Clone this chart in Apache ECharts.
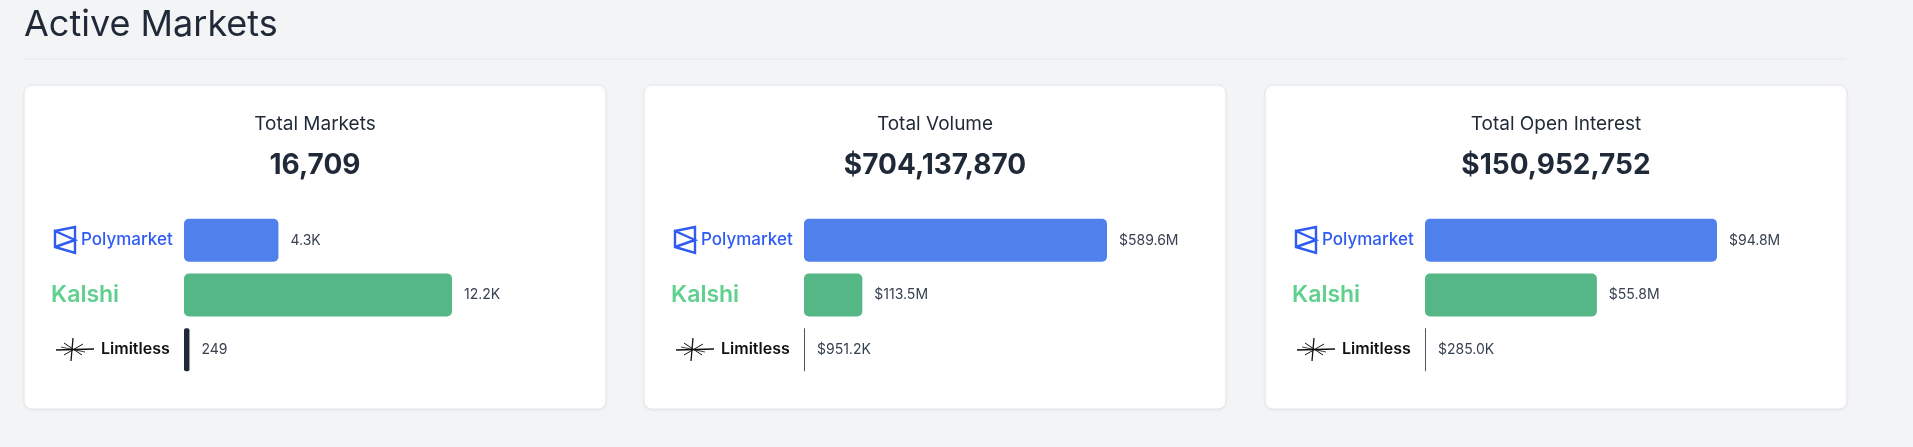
<!DOCTYPE html>
<html><head><meta charset="utf-8">
<script src="https://cdn.jsdelivr.net/npm/echarts@6/dist/echarts.min.js"></script>
<style>html,body{margin:0;padding:0;background:#f3f4f6;}#c{width:1913px;height:447px;}</style>
</head><body><div id="c"></div>
<script>
const platforms = ['Polymarket', 'Kalshi', 'Limitless'];
const cardTitles = ['Total Markets', 'Total Volume', 'Total Open Interest'];
const cardTotals = ['16,709', '$704,137,870', '$150,952,752'];
const marketsValues = [4300, 12200, 249];
const marketsLabels = ['4.3K', '12.2K', '249'];
const volumeValues = [589.6, 113.5, 0.9512];
const volumeLabels = ['$589.6M', '$113.5M', '$951.2K'];
const oiValues = [94.8, 55.8, 0.285];
const oiLabels = ['$94.8M', '$55.8M', '$285.0K'];

const datasets = [
  {values: marketsValues, labels: marketsLabels, width: 268, limColor: '#1f2937', limMin: 5},
  {values: volumeValues, labels: volumeLabels, width: 303, limColor: '#4b5563', limMin: 1},
  {values: oiValues, labels: oiLabels, width: 292, limColor: '#4b5563', limMin: 1}
];
const cardX = [24, 644, 1265];
const cardW = 582, cardTop = 85, cardH = 324;
const colors = ['#4f80ec', '#54b785'];
const F = 'Inter';

const chart = echarts.init(document.getElementById('c'));
const graphic = [
  {type:'text', left: 24, top: 7, style:{text:'Active Markets', fontSize:36, fontFamily:F, fill:'#1f2937'}},
  {type:'line', shape:{x1:24,y1:59,x2:1846,y2:59}, style:{stroke:'#e5e7eb', lineWidth:1}}
];
const grids=[], xAxes=[], yAxes=[], series=[];
datasets.forEach((d,i)=>{
  const x0 = cardX[i];
  graphic.push({type:'rect', shape:{x:x0,y:cardTop,width:cardW,height:cardH,r:8},
    style:{fill:'#fff', stroke:'#e5e7eb', lineWidth:1, shadowBlur:3, shadowColor:'rgba(0,0,0,0.06)', shadowOffsetY:1}, z:-10});
  graphic.push({type:'text', x:x0+cardW/2, y:124, style:{text:cardTitles[i], fontSize:19, fontFamily:F, fill:'#1f2937', align:'center', verticalAlign:'middle'}});
  graphic.push({type:'text', x:x0+cardW/2, y:166, style:{text:cardTotals[i], fontSize:28, fontWeight:700, fontFamily:F, fill:'#1f2937', align:'center', verticalAlign:'middle'}});
  graphic.push({type:'polyline', x:x0+31, y:240, shape:{points:[[0,-9],[20,-13],[20,13],[0,7],[0,-9],[20,0],[0,7]]}, style:{stroke:'#2f5bf2', lineWidth:2.4, fill:null}});
  graphic.push({type:'group', x:x0+49, y:349, children:[
    {type:'line', shape:{x1:-17,y1:1,x2:21,y2:0}, style:{stroke:'#111', lineWidth:1.3}},
    {type:'line', shape:{x1:0,y1:-11,x2:-2,y2:12}, style:{stroke:'#111', lineWidth:1.3}},
    {type:'line', shape:{x1:-9,y1:-6,x2:9,y2:6}, style:{stroke:'#111', lineWidth:1}},
    {type:'line', shape:{x1:-9,y1:6,x2:10,y2:-5}, style:{stroke:'#111', lineWidth:1}},
    {type:'line', shape:{x1:-12,y1:-2,x2:12,y2:3}, style:{stroke:'#111', lineWidth:0.8}}
  ]});
  grids.push({left:x0+160, top:213, width:d.width, height:164});
  xAxes.push({gridIndex:i, type:'value', min:0, max:Math.max(...d.values), show:false});
  yAxes.push({gridIndex:i, type:'category', inverse:true, data:platforms,
    axisLine:{show:false}, axisTick:{show:false}, splitLine:{show:false},
    axisLabel:{align:'left', margin:127,
      formatter:v=>v==='Polymarket'?'{p|Polymarket}':v==='Kalshi'?'{k|Kalshi}':'{l|Limitless}',
      rich:{p:{fontSize:17, fontWeight:500, fontFamily:F, color:'#2f5bf2', padding:[0,0,0,24]},
            k:{fontSize:23, fontWeight:600, fontFamily:F, color:'#5fd08e', padding:[0,0,0,-6]},
            l:{fontSize:16, fontWeight:600, fontFamily:F, color:'#111', padding:[0,0,0,44]}}}});
  series.push({type:'bar', xAxisIndex:i, yAxisIndex:i, barWidth:43,
    data:d.values.map((v,j)=>({value:v, itemStyle:{color: j<2?colors[j]:d.limColor,
      borderRadius: j<2?5:(d.limMin>2?2:0)}})),
    barMinHeight:d.limMin,
    label:{show:true, position:'right', distance:12, fontSize:14, fontFamily:F, color:'#374151',
      formatter:p=>d.labels[p.dataIndex]}});
});
chart.setOption({animation:false, graphic, grid:grids, xAxis:xAxes, yAxis:yAxes, series});
</script></body></html>
